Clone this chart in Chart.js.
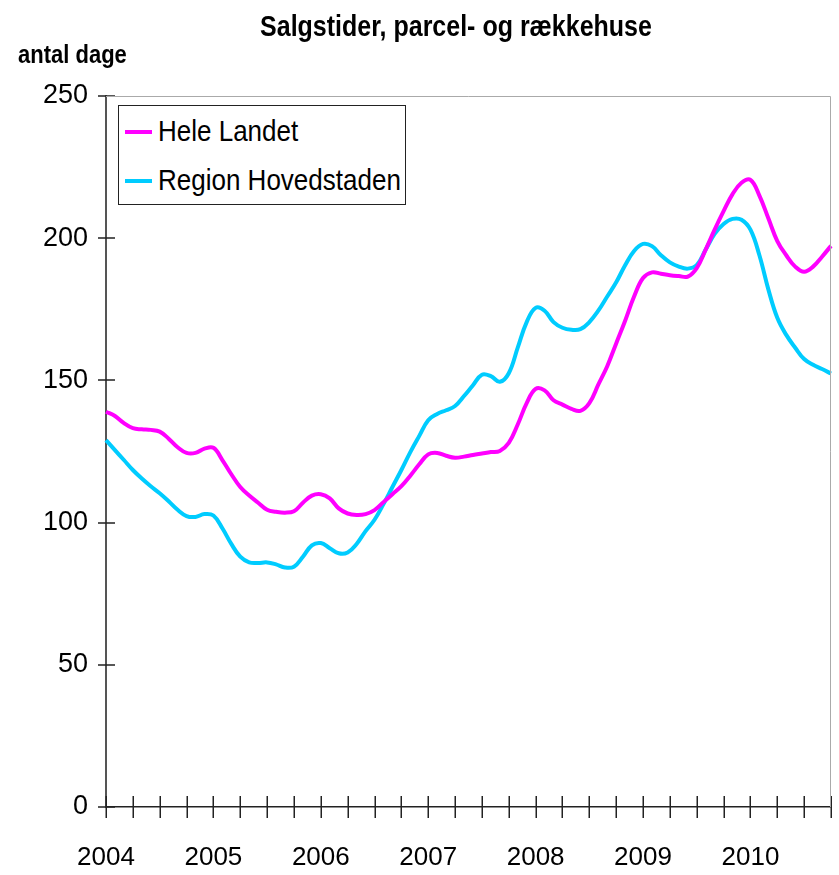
<!DOCTYPE html>
<html lang="da">
<head>
<meta charset="UTF-8">
<title>Salgstider, parcel- og rækkehuse</title>
<script src="https://cdn.jsdelivr.net/npm/chart.js"></script>
<style>
    body {
        margin: 0;
        background: #fff;
        font-family: "Liberation Sans", Arial, sans-serif;
        color: #000;
    }
    .wrap {
        position: relative;
        width: 839px;
        height: 875px;
    }
    canvas {
        position: absolute;
        left: 0;
        top: 0;
    }
    .title {
        position: absolute;
        left: 206px;
        width: 500px;
        top: 14px;
        line-height: 25px;
        text-align: center;
        font-weight: bold;
        font-size: 25px;
        transform: scaleY(1.15);
    }
    .unit {
        position: absolute;
        left: 18px;
        top: 42px;
        line-height: 22px;
        font-weight: bold;
        font-size: 22px;
        transform: scaleY(1.15);
        transform-origin: left top;
    }
    .legend {
        position: absolute;
        left: 118px;
        top: 105px;
        width: 288px;
        height: 100px;
        box-sizing: border-box;
        border: 1px solid #222;
        background: #fff;
        padding: 1px 0 0 6px;
    }
    .legend .row {
        height: 49px;
        display: flex;
        align-items: center;
    }
    .legend .swatch {
        width: 27px;
        height: 4px;
        margin-right: 6px;
    }
    .legend .txt {
        font-size: 26px;
        transform: scaleY(1.15);
    }
</style>
</head>
<body>
<div class="wrap">
    <canvas id="salgChart" width="839" height="875"></canvas>
    <div class="title">Salgstider, parcel- og rækkehuse</div>
    <div class="unit">antal dage</div>
    <div class="legend" id="legend"></div>
</div>

<script>
    const FONT = '"Liberation Sans", Arial, sans-serif';

    // monthly observations jan 2004 - okt 2010
    const years = [2004, 2005, 2006, 2007, 2008, 2009, 2010];
    const lastMonth = 10;
    const yTicks = [0, 50, 100, 150, 200, 250];

    const heleLandet = [
        139, 137.5, 135, 133.2, 132.8, 132.6, 132, 129.5, 126.5, 124.5, 124.5, 126,
        126.3, 122, 117, 112.5, 109.5, 107, 104.5, 103.8, 103.5, 104, 107, 109.5,
        110, 108.5, 105, 103.2, 102.7, 103, 104.4, 107.2, 110, 112.8, 116.5, 120.5,
        124, 124.5, 123.5, 122.8, 123.2, 123.8, 124.3, 124.8, 125.2, 128, 134.5, 142,
        147, 146.5, 143, 141.5, 140, 139.3, 142, 148.5, 155, 163, 171, 179.5,
        186, 188, 187.5, 187, 186.7, 186.5, 189.5, 196, 203, 209.5, 215.5, 219.5,
        220.5, 215, 207, 199, 194, 190, 188.2, 190, 193.5, 197.3
    ];

    const regionHovedstaden = [
        129, 125.5, 122, 118.5, 115.5, 112.8, 110.3, 107.5, 104.5, 102.3, 102, 103,
        102.5, 98, 92.5, 88, 86, 85.8, 86, 85.3, 84.2, 84.5, 88, 92,
        92.8, 91, 89.2, 89.5, 92.5, 97, 101, 106.5, 112.5, 118.5, 124.8, 130.5,
        136, 138.2, 139.5, 141, 144.5, 148.3, 152, 151.5, 149.5, 152.5, 161.5, 170.5,
        175.5, 174.5, 170.5, 168.5, 167.8, 168, 170.5, 174.5, 179.5, 184.5, 190.5, 195.5,
        198, 197.2, 194, 191.5, 190, 189.3, 190.5, 196, 201.5, 205, 206.8, 206.5,
        203, 194, 182, 172, 166, 161.5, 157.5, 155.5, 154, 152.4
    ];

    const months = [];
    years.forEach(y => {
        const n = y === years[years.length - 1] ? lastMonth : 12;
        for (let m = 1; m <= n; m++) months.push(y + '-' + String(m).padStart(2, '0'));
    });

    // tick marks crossing the axes + light frame top/right
    const axisDecor = {
        id: 'axisDecor',
        afterDraw(chart) {
            const { ctx, chartArea: a, scales: { x, y } } = chart;
            ctx.save();
            ctx.strokeStyle = '#222';
            ctx.lineWidth = 1.5;
            ctx.beginPath();
            months.forEach((m, i) => {
                if (i % 3 !== 0) return;
                const px = Math.round(x.getPixelForValue(i)) + 0.25;
                ctx.moveTo(px, a.bottom - 11);
                ctx.lineTo(px, a.bottom + 11);
            });
            yTicks.forEach(v => {
                const py = Math.round(y.getPixelForValue(v));
                ctx.moveTo(a.left - 8, py);
                ctx.lineTo(a.left + 9, py);
            });
            ctx.stroke();

            ctx.strokeStyle = '#aaa';
            ctx.lineWidth = 1;
            ctx.beginPath();
            ctx.moveTo(a.left, a.top + 0.5);
            ctx.lineTo(a.right - 0.5, a.top + 0.5);
            ctx.lineTo(a.right - 0.5, a.bottom);
            ctx.stroke();
            ctx.restore();
        }
    };

    const ctx = document.getElementById('salgChart').getContext('2d');

    const chart = new Chart(ctx, {
        type: 'line',
        data: {
            labels: months,
            datasets: [
                {
                    label: 'Hele Landet',
                    data: heleLandet,
                    borderColor: '#ff00ff',
                    backgroundColor: '#ff00ff',
                    borderWidth: 4,
                    pointRadius: 0,
                    tension: 0.4,
                    fill: false
                },
                {
                    label: 'Region Hovedstaden',
                    data: regionHovedstaden,
                    borderColor: '#00ccff',
                    backgroundColor: '#00ccff',
                    borderWidth: 4,
                    pointRadius: 0,
                    tension: 0.4,
                    fill: false
                }
            ]
        },
        options: {
            responsive: false,
            animation: false,
            layout: { padding: { left: 0, right: 8, top: 96, bottom: 0 } },
            plugins: {
                tooltip: { enabled: false },
                legend: { display: false }
            },
            scales: {
                x: {
                    grid: { display: false, drawTicks: false },
                    border: { color: '#222', width: 1.5 },
                    ticks: {
                        autoSkip: false,
                        maxRotation: 0,
                        padding: 35,
                        color: '#000',
                        font: { family: FONT, size: 26 },
                        callback: (v, i) => (i % 12 === 0 ? months[i].slice(0, 4) : null)
                    },
                    afterFit: s => { s.height = 68; }
                },
                y: {
                    min: 0,
                    max: 250,
                    grid: { display: false, drawTicks: false },
                    border: { color: '#555', width: 2 },
                    ticks: {
                        stepSize: 50,
                        padding: 18,
                        color: '#000',
                        font: { family: FONT, size: 27 }
                    },
                    afterFit: s => { s.width = 106; }
                }
            }
        },
        plugins: [axisDecor]
    });

    // legend box drawn from the chart's datasets
    const legendEl = document.getElementById('legend');
    chart.data.datasets.forEach(ds => {
        const row = document.createElement('div');
        row.className = 'row';
        const sw = document.createElement('span');
        sw.className = 'swatch';
        sw.style.background = ds.borderColor;
        const txt = document.createElement('span');
        txt.className = 'txt';
        txt.textContent = ds.label;
        row.appendChild(sw);
        row.appendChild(txt);
        legendEl.appendChild(row);
    });
</script>
</body>
</html>
